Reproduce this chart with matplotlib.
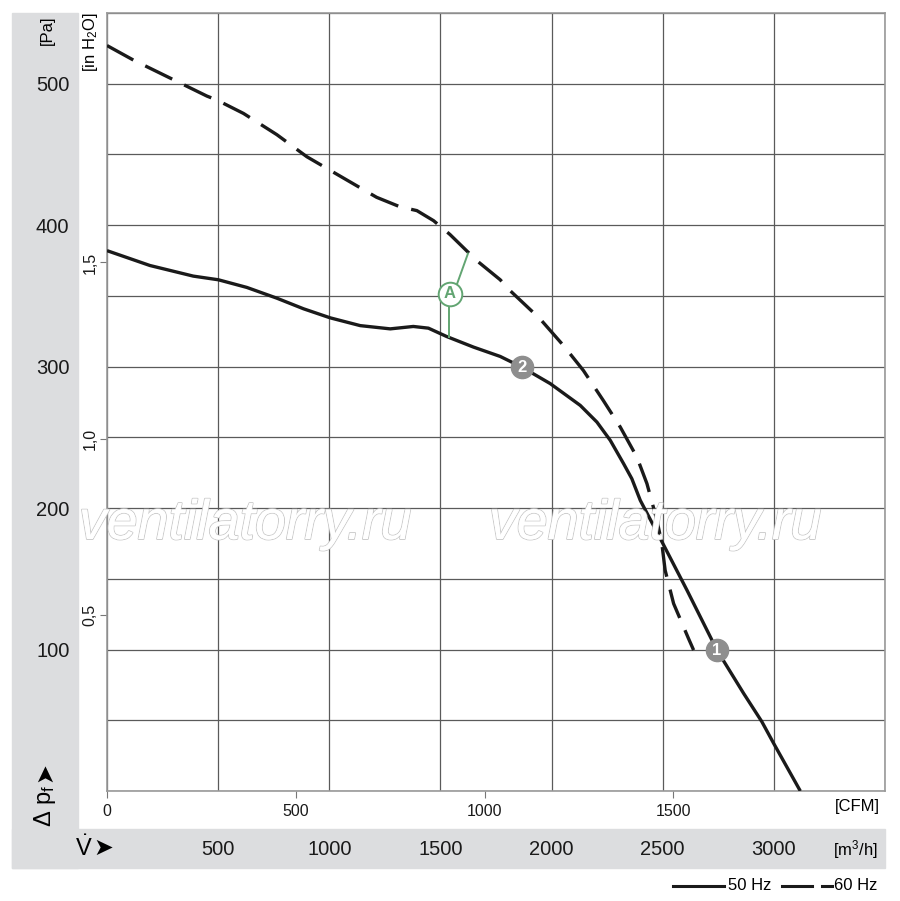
import matplotlib
matplotlib.use('Agg')
import matplotlib.pyplot as plt
from matplotlib.patches import Rectangle
from matplotlib.lines import Line2D
import matplotlib.patheffects as pe

# fan curve 60 Hz (dashed), flow in m3/h, pressure in Pa
q60 = [0, 119, 284, 449, 494, 614, 764, 899, 1019, 1213, 1318, 1394, 1469, 1543,
       1663, 1769, 1813, 1948, 2053, 2143, 2233, 2309, 2384, 2429, 2474, 2496, 2511, 2549,
       2616, 2639]
p60 = [527, 516.7, 504, 491.3, 488.5, 479, 464, 448.4, 437.4, 419.7, 413, 410.3, 403.2, 393.4,
       375, 361.4, 353.8, 333.8, 315, 297.3, 276, 257.3, 236, 217.3, 191.4, 175, 156,
       132.5, 107.8, 99.6]

# fan curve 50 Hz (solid)
q50 = [0, 193, 388, 501, 629, 764, 884, 1004, 1139, 1274, 1378, 1446, 1528, 1649, 1769,
       1866, 1994, 2129, 2204, 2264, 2324, 2361, 2399, 2489, 2609, 2744, 2864, 2946, 2999,
       3119]
p50 = [382, 371.5, 364, 361.4, 356, 348.4, 340.9, 334.5, 329, 326.7, 328.4, 327.2, 321.3,
       313.8, 307.2, 299.7, 288, 272.6, 260.8, 247.9, 231.4, 220.8, 205.5, 178.5, 142, 99.6,
       69, 49, 33.7, 0]

# operating point badges on the 50 Hz curve
badge_labels = ['1', '2']
badge_q = [2744, 1866]
badge_p = [99.6, 299.7]
# marker "A" between the curves
a_q, a_p = 1543, 351.7
a_top = (1624, 380)
a_bot = (1539, 320.6)

pa_ticks = [100, 200, 300, 400, 500]
m3h_ticks = [500, 1000, 1500, 2000, 2500, 3000]
cfm_ticks = [0, 500, 1000, 1500]
inh2o_ticks = [0.5, 1.0, 1.5]

FONT = ['Liberation Sans', 'DejaVu Sans']
plt.rcParams['font.family'] = FONT
plt.rcParams['mathtext.fontset'] = 'custom'
plt.rcParams['mathtext.rm'] = 'Liberation Sans'
plt.rcParams['mathtext.it'] = 'Liberation Sans:italic'

W, H = 900, 901
fig = plt.figure(figsize=(9, 9.01), dpi=100)


def fx(x):
    return x / W


def fy(y):
    return 1 - y / H


# grey bands (drawn under everything)
band = '#dcdddf'
fig.patches.append(Rectangle((fx(12), fy(868)), fx(78) - fx(12), fy(13) - fy(868),
                             transform=fig.transFigure, color=band, zorder=-1))
fig.patches.append(Rectangle((fx(12), fy(868)), fx(885) - fx(12), fy(829) - fy(868),
                             transform=fig.transFigure, color=band, zorder=-1))

ax = fig.add_axes([fx(107), fy(791), fx(885) - fx(107), fy(13) - fy(791)])
ax.set_xlim(0, 3500)
ax.set_ylim(0, 550)

ax.set_xticks(range(0, 3501, 500))
ax.set_xticklabels([''] + [str(v) for v in m3h_ticks] + [''])
ax.set_yticks(range(0, 551, 50), minor=True)
ax.set_yticks(pa_ticks)
ax.set_yticklabels([str(v) for v in pa_ticks])
ax.grid(True, which='both', color='#5a5a5a', lw=0.9)
ax.tick_params(axis='both', which='both', length=0)
ax.tick_params(axis='y', pad=27, labelsize=14.5, colors='#1a1a1a')
ax.tick_params(axis='x', pad=35, labelsize=14.5, colors='#1a1a1a')
for s in ax.spines.values():
    s.set_color('#999999')
    s.set_linewidth(1.2)

ax.plot(q50, p50, color='#1a1a1a', lw=2.4, solid_capstyle='butt', zorder=3)
ax.plot(q60, p60, color='#1a1a1a', lw=2.4, dashes=(9, 4), dash_capstyle='butt', zorder=3)

# secondary axes: CFM and in H2O
sx = ax.secondary_xaxis('bottom', functions=(lambda x: x / 1.699, lambda x: x * 1.699))
sx.set_xticks(cfm_ticks)
sx.set_xticklabels([str(v) for v in cfm_ticks])
sx.tick_params(length=5, width=0.8, color='#777777', pad=4, labelsize=11.5, colors='#1a1a1a')
sx.tick_params(color='#777777')
sx.spines['bottom'].set_visible(False)

sy = ax.secondary_yaxis('left', functions=(lambda p: p / 249.09, lambda h: h * 249.09))
sy.set_yticks(inh2o_ticks)
sy.set_yticklabels(['0,5', '1,0', '1,5'], rotation=90, va='center')
sy.tick_params(length=5, width=0.8, color='#777777', pad=2, labelsize=11.5, colors='#1a1a1a')
sy.spines['left'].set_visible(False)

# badges
for lab, q, p in zip(badge_labels, badge_q, badge_p):
    ax.plot(q, p, 'o', ms=16, color='#8e8e8e', mec='#8e8e8e', zorder=5)
    ax.text(q, p, lab, color='white', ha='center', va='center', fontsize=12,
            fontweight='bold', zorder=6)

green = '#62a572'
ax.plot([a_q + 30, a_top[0]], [a_p + 6, a_top[1]], color=green, lw=1.4, zorder=4)
ax.plot([a_bot[0], a_bot[0]], [a_p - 8, a_bot[1]], color=green, lw=1.4, zorder=4)
ax.plot(a_q, a_p, 'o', ms=17, mfc='white', mec=green, mew=1.4, zorder=5)
ax.text(a_q, a_p, 'A', color=green, ha='center', va='center', fontsize=12,
        fontweight='bold', zorder=6)

# watermark
for xc in [245, 655]:
    fig.text(fx(xc), fy(525), 'ventilatorry.ru', family='Liberation Sans', style='italic',
             fontsize=40, color='white', ha='center', va='center', zorder=10,
             path_effects=[pe.withStroke(linewidth=1.3, foreground='#c8c8c8'), pe.Normal()])

# axis texts
fig.text(fx(47), fy(30), '[Pa]', rotation=90, ha='center', va='center', fontsize=12)
fig.text(fx(90), fy(42), r'[in H$_2$O]', rotation=90, ha='center', va='center', fontsize=12)
fig.text(fx(45), fy(806), r'Δ p$_{\mathrm{f}}$', rotation=90, ha='center', va='center',
         fontsize=17)
fig.text(fx(44), fy(772), '➤', family='DejaVu Sans', rotation=90, ha='center', va='center',
         fontsize=17)
fig.text(fx(84), fy(848), r'$\dot{\mathrm{V}}$', ha='center', va='center', fontsize=17)
fig.text(fx(103), fy(848), '➤', family='DejaVu Sans', ha='center', va='center', fontsize=17)
fig.text(fx(857), fy(806), '[CFM]', ha='center', va='center', fontsize=12)
fig.text(fx(855), fy(850), r'[m$^3$/h]', ha='center', va='center', fontsize=12)

# legend
fig.add_artist(Line2D([fx(673), fx(724)], [fy(886), fy(886)], color='#1a1a1a', lw=2.2,
                      transform=fig.transFigure))
fig.text(fx(728), fy(886), '50 Hz', ha='left', va='center', fontsize=12)
fig.add_artist(Line2D([fx(782), fx(812)], [fy(886), fy(886)], color='#1a1a1a', lw=2.2,
                      transform=fig.transFigure))
fig.add_artist(Line2D([fx(822), fx(832)], [fy(886), fy(886)], color='#1a1a1a', lw=2.2,
                      transform=fig.transFigure))
fig.text(fx(834), fy(886), '60 Hz', ha='left', va='center', fontsize=12)

fig.savefig('out.png', dpi=100)
